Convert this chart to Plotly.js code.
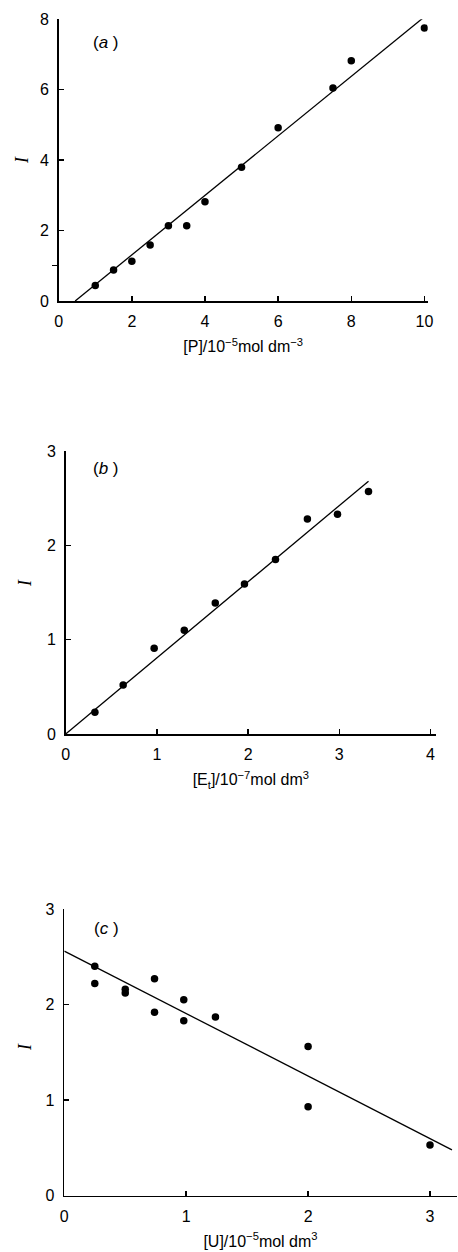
<!DOCTYPE html>
<html>
<head>
<meta charset="utf-8">
<script src="https://cdn.plot.ly/plotly-3.0.1.min.js"></script>
<style>html,body{margin:0;padding:0;background:#fff;}#chart{width:458px;height:1252px;}</style>
</head>
<body>
<div id="chart"></div>
<script>
// Panel (a): I vs [P]
const aX = [1, 1.5, 2, 2.5, 3, 3.5, 4, 5, 6, 7.5, 8, 10];
const aY = [0.44, 0.88, 1.13, 1.59, 2.14, 2.14, 2.82, 3.80, 4.92, 6.05, 6.82, 7.75];
const aFitX = [0.45, 10.0];
const aFitY = [0, 8.07];

// Panel (b): I vs [Et]
const bX = [0.32, 0.63, 0.97, 1.30, 1.64, 1.96, 2.30, 2.65, 2.98, 3.32];
const bY = [0.23, 0.52, 0.91, 1.10, 1.39, 1.59, 1.85, 2.28, 2.33, 2.57];
const bFitX = [0, 3.32];
const bFitY = [0, 2.68];

// Panel (c): I vs [U]
const cX = [0.25, 0.25, 0.5, 0.5, 0.74, 0.74, 0.98, 0.98, 1.24, 2.0, 2.0, 3.0];
const cY = [2.40, 2.22, 2.16, 2.12, 2.27, 1.92, 2.05, 1.83, 1.87, 1.56, 0.93, 0.53];
const cFitX = [0, 3.18];
const cFitY = [2.56, 0.48];

const aTicksX = [0, 2, 4, 6, 8, 10];
const aTicksY = [0, 2, 4, 6, 8];
const bTicksX = [0, 1, 2, 3, 4];
const bTicksY = [0, 1, 2, 3];
const cTicksX = [0, 1, 2, 3];
const cTicksY = [0, 1, 2, 3];

const xTitles = [
  '[P]/10<sup>\u22125</sup>mol dm<sup>\u22123</sup>',
  '[E<sub>t</sub>]/10<sup>\u22127</sup>mol dm<sup>3</sup>',
  '[U]/10<sup>\u22125</sup>mol dm<sup>3</sup>'
];
const panelLabels = ['(<i>a</i> )', '(<i>b</i> )', '(<i>c</i> )'];

const FONT = 'Liberation Sans, Arial, Helvetica, sans-serif';
const W = 458, H = 1252;

function pts(x, y, xa, ya) {
  return {x: x, y: y, xaxis: xa, yaxis: ya, type: 'scatter', mode: 'markers',
    marker: {color: '#000', size: 7.5}, showlegend: false, hoverinfo: 'x+y'};
}
function fit(x, y, xa, ya) {
  return {x: x, y: y, xaxis: xa, yaxis: ya, type: 'scatter', mode: 'lines',
    line: {color: '#000', width: 1.3}, showlegend: false, hoverinfo: 'skip'};
}

const data = [
  fit(aFitX, aFitY, 'x', 'y'), pts(aX, aY, 'x', 'y'),
  fit(bFitX, bFitY, 'x2', 'y2'), pts(bX, bY, 'x2', 'y2'),
  fit(cFitX, cFitY, 'x3', 'y3'), pts(cX, cY, 'x3', 'y3')
];

function axBase(extra) {
  return Object.assign({
    showline: true, linecolor: '#000', linewidth: 1.7,
    ticks: 'inside', ticklen: 5, tickwidth: 1.5, tickcolor: '#000',
    showgrid: false, zeroline: false, fixedrange: true,
    ticklabelstandoff: 5,
    tickfont: {family: FONT, size: 16, color: '#000'}
  }, extra);
}
const titleFont = {family: FONT, size: 16, color: '#000'};

// pixel-based domains
function dx(l, r) { return [l / W, r / W]; }
function dy(b, t) { return [1 - b / H, 1 - t / H]; }

const layout = {
  width: W, height: H,
  margin: {l: 0, r: 0, t: 0, b: 0},
  paper_bgcolor: '#fff', plot_bgcolor: 'rgba(0,0,0,0)',
  showlegend: false,
  xaxis: axBase({domain: dx(58.7, 427.7), range: [0, 10.09], tickmode: 'array', tickvals: aTicksX, anchor: 'y',
    title: {text: xTitles[0], font: titleFont, standoff: 12}}),
  yaxis: axBase({domain: dy(301, 19.3), range: [0, 8], tickmode: 'array', tickvals: aTicksY, anchor: 'x',
    minor: {tickvals: [1], ticks: 'outside', ticklen: 5, tickwidth: 1.2, tickcolor: '#000'}}),
  xaxis2: axBase({domain: dx(65.7, 436), range: [0, 4.06], tickmode: 'array', tickvals: bTicksX, anchor: 'y2',
    title: {text: xTitles[1], font: titleFont, standoff: 12}}),
  yaxis2: axBase({domain: dy(734, 451), range: [0, 3], tickmode: 'array', tickvals: bTicksY, anchor: 'x2'}),
  xaxis3: axBase({domain: dx(64.3, 456.7), range: [0, 3.219], tickmode: 'array', tickvals: cTicksX, anchor: 'y3',
    title: {text: xTitles[2], font: titleFont, standoff: 12}}),
  yaxis3: axBase({domain: dy(1195.7, 909), range: [0, 3], tickmode: 'array', tickvals: cTicksY, anchor: 'x3'}),
  annotations: [
    {text: panelLabels[0], xref: 'paper', yref: 'paper', x: 106 / W, y: 1 - 42 / H, showarrow: false, xanchor: 'center', yanchor: 'middle', font: {family: FONT, size: 17, color: '#000'}},
    {text: panelLabels[1], xref: 'paper', yref: 'paper', x: 106 / W, y: 1 - 469 / H, showarrow: false, xanchor: 'center', yanchor: 'middle', font: {family: FONT, size: 17, color: '#000'}},
    {text: panelLabels[2], xref: 'paper', yref: 'paper', x: 106 / W, y: 1 - 929 / H, showarrow: false, xanchor: 'center', yanchor: 'middle', font: {family: FONT, size: 17, color: '#000'}},
    {text: '<i>I</i>', xref: 'paper', yref: 'paper', x: 22 / W, y: 1 - 160 / H, showarrow: false, textangle: -90, xanchor: 'center', yanchor: 'middle', font: {family: 'Liberation Serif, Times New Roman, serif', size: 18, color: '#000'}},
    {text: '<i>I</i>', xref: 'paper', yref: 'paper', x: 25 / W, y: 1 - 583 / H, showarrow: false, textangle: -90, xanchor: 'center', yanchor: 'middle', font: {family: 'Liberation Serif, Times New Roman, serif', size: 18, color: '#000'}},
    {text: '<i>I</i>', xref: 'paper', yref: 'paper', x: 25 / W, y: 1 - 1047 / H, showarrow: false, textangle: -90, xanchor: 'center', yanchor: 'middle', font: {family: 'Liberation Serif, Times New Roman, serif', size: 18, color: '#000'}}
  ]
};

Plotly.newPlot('chart', data, layout, {displayModeBar: false, staticPlot: true});
</script>
</body>
</html>
